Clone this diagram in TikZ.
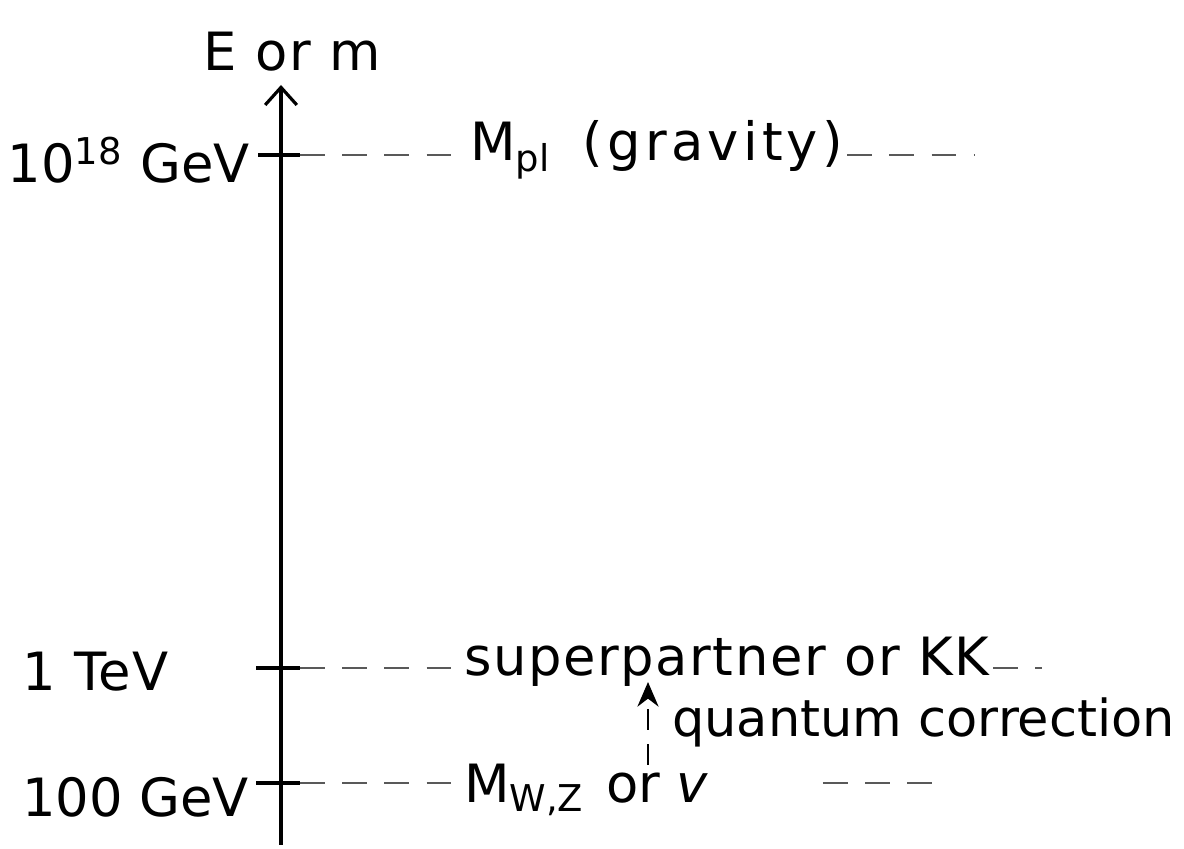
\documentclass[tikz,border=0pt]{standalone}
\usepackage{fontspec}
\setmainfont{DejaVu Sans}
\usepackage{tikz}
\usetikzlibrary{arrows.meta}
\tikzset{
    axis/.style={draw, line width=0.9pt, -{Straight Barb[length=5pt,width=9pt]}}, % energy axis
    guide/.style={draw, black!65, line width=0.8pt, dash pattern=on 7pt off 5pt},
    tickmark/.style={draw, line width=1.1pt},
    lab/.style={font=\fontsize{15}{17}\selectfont, inner sep=1pt},
    wide/.style={font=\fontsize{15}{17}\selectfont\addfontfeature{LetterSpace=3}},
    corr/.style={draw, line width=0.8pt, dash pattern=on 6pt off 4pt, -{Stealth[length=7pt,width=6pt]}}
}

\begin{document}
\begin{tikzpicture}[x=0.01cm, y=-0.01cm]
	\useasboundingbox (0,0) rectangle (1184,849);

	% axis
	\coordinate (bot) at (281,845);
	\coordinate (top) at (281,85);
	\draw[axis] (bot) -- (top);
	\node (title) [lab, wide] at (292,52) {E or m};

	% scales
	\coordinate (a18) at (258,155);
	\coordinate (b18) at (300,155);
	\coordinate (a1) at (256,668);
	\coordinate (b1) at (300,668);
	\coordinate (a100) at (256,783);
	\coordinate (b100) at (300,783);
	\draw[tickmark] (a18) -- (b18);
	\draw[tickmark] (a1) -- (b1);
	\draw[tickmark] (a100) -- (b100);

	\node (l18) [lab, anchor=east] at (254,160) {10\textsuperscript{18} GeV};
	\node (l1) [lab, wide, anchor=west] at (18,672) {1 TeV};
	\node (l100) [lab, anchor=west] at (18,797) {100 GeV};

	% masses
	\node (mpl) [lab, anchor=west] at (466,150) {M\textsubscript{pl}\hspace{0.6em}{\addfontfeature{LetterSpace=8}(gravity)}};
	\node (kk) [lab, wide, anchor=west] at (460,662) {superpartner or KK};
	\node (mwz) [lab, anchor=west] at (460,790) {M\textsubscript{W,Z}\hspace{0.4em}or \textit{v}};
	\node (qc) [lab, anchor=west, font=\fontsize{14.5}{17}\selectfont] at (668,722) {quantum correction};

	\coordinate (e18) at (975,155);
	\coordinate (e1) at (1042,668);
	\coordinate (e100) at (945,783);

	\draw[guide] (b18) -- (mpl.west |- b18);
	\draw[guide] (mpl.east |- b18) -- (e18);
	\draw[guide] (b1) -- (kk.west |- b1);
	\draw[guide] (kk.east |- b1) -- (e1);
	\draw[guide] (b100) -- (mwz.west |- b100);
	\draw[guide] (mwz.east |- b100) ++(110,0) -- (e100);

	% correction
	\coordinate (q0) at (648,765);
	\coordinate (q1) at (648,682);
	\draw[corr] (q0) -- (q1);
\end{tikzpicture}
\end{document}
